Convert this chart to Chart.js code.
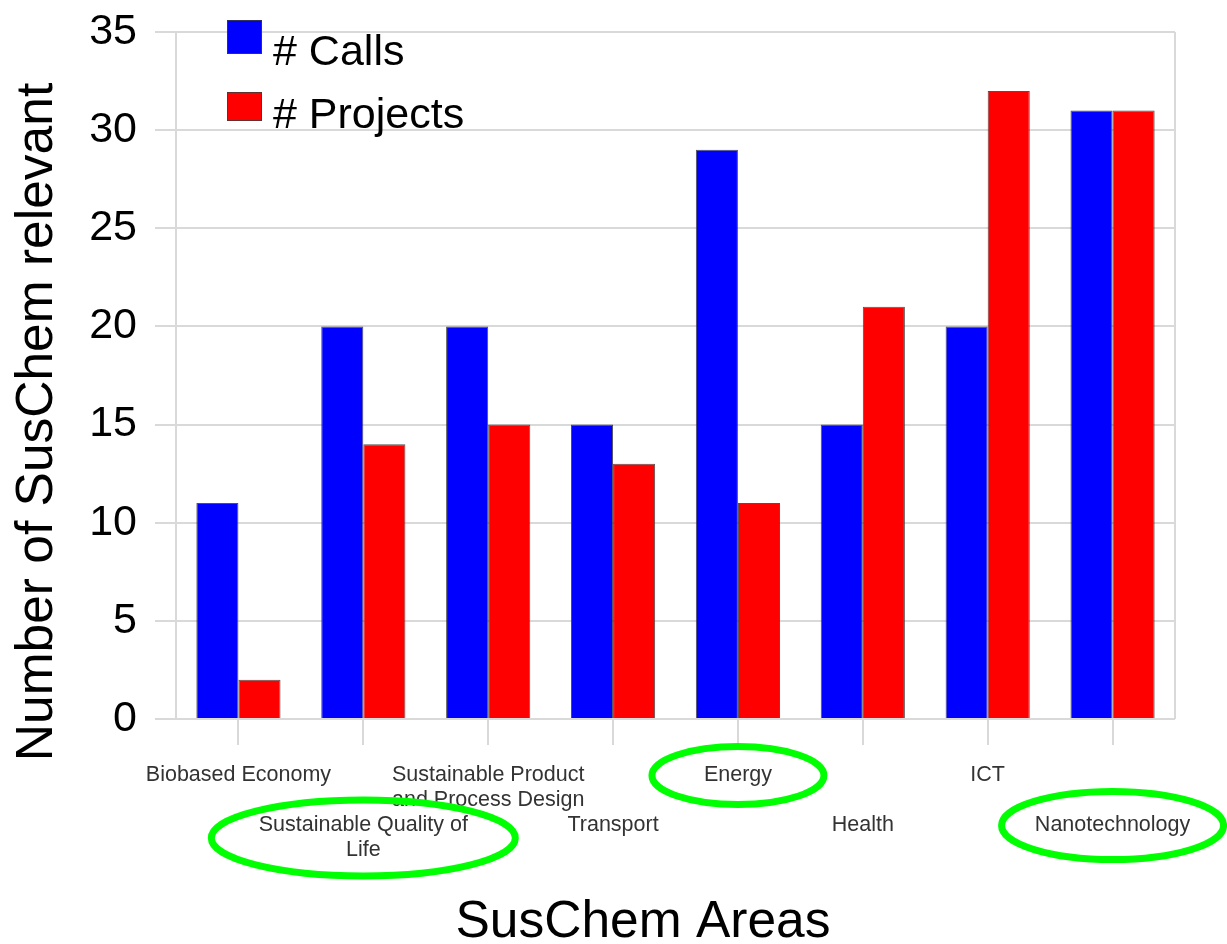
<!DOCTYPE html>
<html>
<head>
<meta charset="utf-8">
<title>SusChem Areas</title>
<script src="https://cdn.jsdelivr.net/npm/chart.js@4.4.1/dist/chart.umd.min.js"></script>
<style>
  html, body { margin: 0; padding: 0; background: #fff; }
  #wrap { position: relative; width: 1227px; height: 944px; }
</style>
</head>
<body>
<div id="wrap"><canvas id="chart"></canvas></div>
<script>
// categories on the x axis
const categories = ['Biobased Economy', 'Sustainable Quality of Life', 'Sustainable Product and Process Design',
    'Transport', 'Energy', 'Health', 'ICT', 'Nanotechnology'];
// tick labels, split the way they wrap in the picture
const tickLabels = [['Biobased Economy'], ['Sustainable Quality of', 'Life'], ['Sustainable Product', 'and Process Design'],
    ['Transport'], ['Energy'], ['Health'], ['ICT'], ['Nanotechnology']];
const calls = [11, 20, 20, 15, 29, 15, 20, 31];
const projects = [2, 14, 15, 13, 11, 21, 32, 31];
const yTicks = [0, 5, 10, 15, 20, 25, 30, 35];
// categories circled in green
const highlighted = ['Sustainable Quality of Life', 'Energy', 'Nanotechnology'];

const FONT = "'Liberation Sans', Arial, sans-serif";
const GRID = '#d9d9d9';
const X_TICK_LEN = 26, X_PAD = 18, X_LINE = 25;

Chart.defaults.font.family = FONT;

// right edge of the plot frame
const framePlugin = {
    id: 'frame',
    beforeDatasetsDraw(chart) {
        const a = chart.chartArea, ctx = chart.ctx;
        ctx.save();
        ctx.strokeStyle = GRID;
        ctx.lineWidth = 2;
        ctx.beginPath();
        ctx.moveTo(a.right, a.top);
        ctx.lineTo(a.right, a.bottom);
        ctx.stroke();
        ctx.restore();
    }
};

// legend boxes sit over the top left of the plot
const legendPlugin = {
    id: 'boxLegend',
    afterDraw(chart) {
        const ctx = chart.ctx;
        const spots = [{x: 227, y: 20, w: 35, h: 34, ty: 65}, {x: 227, y: 92, w: 35, h: 29, ty: 128}];
        ctx.save();
        chart.data.datasets.forEach((ds, i) => {
            const s = spots[i];
            ctx.fillStyle = ds.backgroundColor;
            ctx.fillRect(s.x, s.y, s.w, s.h);
            ctx.strokeStyle = 'rgba(60,60,60,0.8)';
            ctx.lineWidth = 1;
            ctx.strokeRect(s.x + 0.5, s.y + 0.5, s.w - 1, s.h - 1);
            ctx.fillStyle = '#000';
            ctx.font = '43px ' + FONT;
            ctx.textAlign = 'left';
            ctx.textBaseline = 'alphabetic';
            ctx.fillText(ds.label, 273, s.ty);
        });
        ctx.restore();
    }
};

// axis titles (not centred on the plot in the original)
const titlePlugin = {
    id: 'axisTitles',
    afterDraw(chart) {
        const ctx = chart.ctx;
        ctx.save();
        ctx.fillStyle = '#000';
        ctx.font = '51.5px ' + FONT;
        ctx.textAlign = 'center';
        ctx.textBaseline = 'alphabetic';
        ctx.fillText('SusChem Areas', 643, 937);
        ctx.translate(52, 422);
        ctx.rotate(-Math.PI / 2);
        ctx.fillText('Number of SusChem relevant', 0, 0);
        ctx.restore();
    }
};

// green hand-drawn rings round some labels
const ringPlugin = {
    id: 'rings',
    afterDraw(chart) {
        const x = chart.scales.x, ctx = chart.ctx;
        const radii = {'Sustainable Quality of Life': [152, 38], 'Energy': [86, 29], 'Nanotechnology': [111, 34]};
        ctx.save();
        ctx.strokeStyle = '#00ff00';
        ctx.lineWidth = 7;
        highlighted.forEach(name => {
            const i = categories.indexOf(name);
            const lines = tickLabels[i].length;
            const first = i % 2 === 1 ? 2 : 0;
            const cy = x.top + X_TICK_LEN + X_PAD + X_LINE / 2 + (first + (lines - 1) / 2) * X_LINE;
            const cx = x.getPixelForTick(i);
            const r = radii[name];
            ctx.beginPath();
            ctx.ellipse(cx, cy, r[0], r[1], 0, 0, Math.PI * 2);
            ctx.stroke();
        });
        ctx.restore();
    }
};

new Chart(document.getElementById('chart'), {
    type: 'bar',
    data: {
        labels: categories,
        datasets: [{
            label: '# Calls',
            data: calls,
            backgroundColor: '#0000ff',
            borderColor: 'rgba(50,50,50,0.85)',
            borderWidth: 1
        }, {
            label: '# Projects',
            data: projects,
            backgroundColor: '#ff0000',
            borderColor: 'rgba(50,50,50,0.85)',
            borderWidth: 1
        }]
    },
    options: {
        responsive: true,
        maintainAspectRatio: false,
        animation: false,
        layout: { padding: { top: 32, right: 52, left: 0, bottom: 0 } },
        datasets: { bar: { categoryPercentage: 0.674, barPercentage: 1.0 } },
        plugins: {
            legend: { display: false },
            tooltip: { enabled: false }
        },
        scales: {
            x: {
                afterFit(s) { s.height = 225; },
                grid: {
                    offset: false,
                    drawOnChartArea: false,
                    drawTicks: true,
                    tickLength: X_TICK_LEN,
                    color: GRID,
                    lineWidth: 2
                },
                border: { display: false },
                ticks: {
                    autoSkip: false,
                    maxRotation: 0,
                    minRotation: 0,
                    padding: X_PAD,
                    color: '#333',
                    font: { size: 21.5, lineHeight: X_LINE + 'px' },
                    callback: (v, i) => (i % 2 === 1 ? ['', ''].concat(tickLabels[i]) : tickLabels[i])
                }
            },
            y: {
                min: 0,
                max: 35,
                afterFit(s) {
                    s.width = 176;
                    s.paddingTop = 0;
                    s.paddingBottom = 0;
                },
                afterBuildTicks(s) { s.ticks = yTicks.map(v => ({ value: v })); },
                grid: {
                    color: GRID,
                    lineWidth: 2,
                    tickLength: 21
                },
                border: { display: true, color: GRID, width: 2 },
                ticks: {
                    padding: 18,
                    color: '#000',
                    font: { size: 43 }
                }
            }
        }
    },
    plugins: [framePlugin, legendPlugin, titlePlugin, ringPlugin]
});
</script>
</body>
</html>
